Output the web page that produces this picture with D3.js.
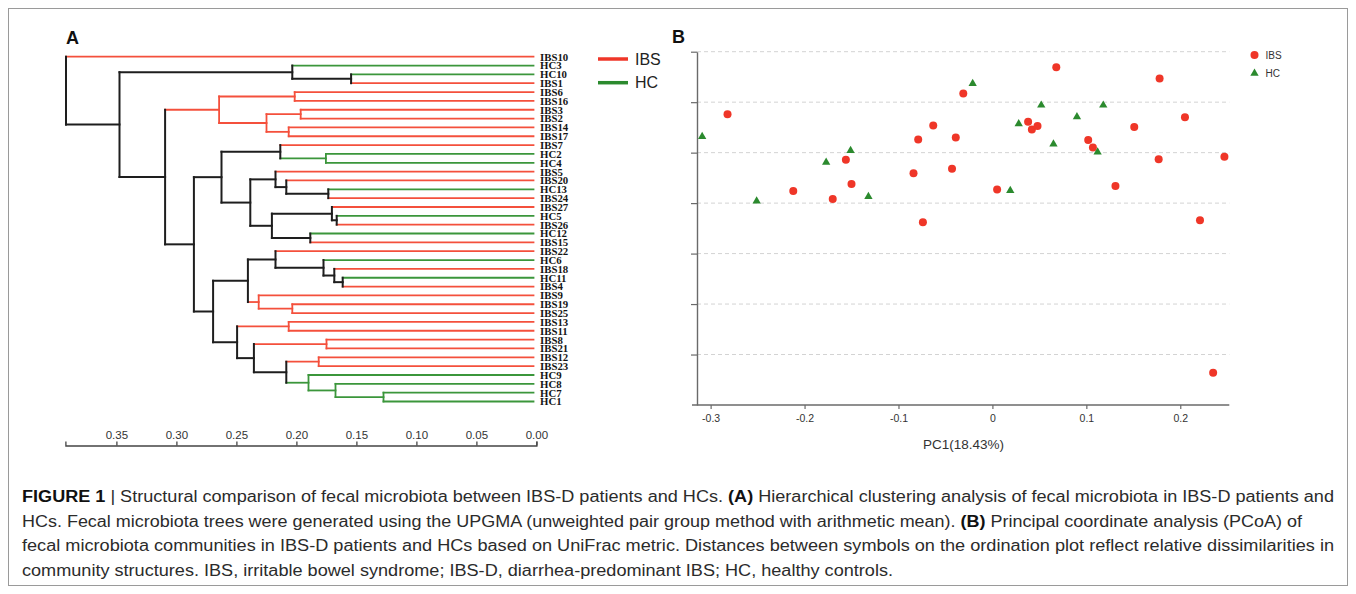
<!DOCTYPE html>
<html><head><meta charset="utf-8">
<script src="https://cdn.jsdelivr.net/npm/d3@7/dist/d3.min.js"></script>
<style>
html,body{margin:0;padding:0;background:#fff;}
svg{display:block;}
</style></head>
<body>
<svg id="fig" width="1356" height="594"></svg>
<script>
// ---------- Panel A: dendrogram data ----------
const leaves = ["IBS10","HC3","HC10","IBS1","IBS6","IBS16","IBS3","IBS2","IBS14","IBS17",
  "IBS7","HC2","HC4","IBS5","IBS20","HC13","IBS24","IBS27","HC5","IBS26",
  "HC12","IBS15","IBS22","HC6","IBS18","HC11","IBS4","IBS9","IBS19","IBS25",
  "IBS13","IBS11","IBS8","IBS21","IBS12","IBS23","HC9","HC8","HC7","HC1"];
// [node, childA, childB, height]
const merges = [
  ["n1","HC10","IBS1",0.152],
  ["n2","HC3","n1",0.201],
  ["n3","IBS6","IBS16",0.199],
  ["n4","IBS3","IBS2",0.194],
  ["n5","IBS14","IBS17",0.204],
  ["n6","n4","n5",0.2225],
  ["n7","n3","n6",0.262],
  ["n8","HC2","HC4",0.173],
  ["n9","IBS7","n8",0.211],
  ["n10","HC13","IBS24",0.171],
  ["n11","IBS20","n10",0.206],
  ["n12","IBS5","n11",0.215],
  ["n13","HC5","IBS26",0.164],
  ["n14","IBS27","n13",0.168],
  ["n15","HC12","IBS15",0.186],
  ["n16","n14","n15",0.218],
  ["n17","n12","n16",0.236],
  ["n18","n9","n17",0.26],
  ["n19","HC11","IBS4",0.159],
  ["n20","IBS18","n19",0.166],
  ["n21","HC6","n20",0.175],
  ["n22","IBS22","n21",0.215],
  ["n23","IBS19","IBS25",0.201],
  ["n24","IBS9","n23",0.229],
  ["n25","n22","n24",0.238],
  ["n26","IBS13","IBS11",0.204],
  ["n27","IBS8","IBS21",0.1725],
  ["n28","IBS12","IBS23",0.179],
  ["n29","HC7","HC1",0.125],
  ["n30","HC8","n29",0.165],
  ["n31","HC9","n30",0.1875],
  ["n32","n28","n31",0.206],
  ["n33","n27","n32",0.233],
  ["n34","n26","n33",0.247],
  ["n35","n25","n34",0.267],
  ["n36","n18","n35",0.283],
  ["n37","n7","n36",0.307],
  ["n38","n2","n37",0.345],
  ["root","IBS10","n38",0.3896]
];
const distTicks = [0.35,0.30,0.25,0.20,0.15,0.10,0.05,0.00];
const groups = ["IBS","HC"];

// ---------- Panel B: PCoA data ----------
const ibsPC1 = [-0.282,-0.212,-0.170,-0.156,-0.150,-0.084,-0.079,-0.074,-0.063,-0.043,-0.039,-0.031,0.005,
  0.068,0.178,0.205,0.038,0.042,0.048,0.151,0.102,0.107,0.177,0.247,0.131,0.221,0.235];
const ibsPC2 = [0.076,-0.076,-0.092,-0.014,-0.062,-0.041,0.026,-0.138,0.054,-0.032,0.030,0.117,-0.073,
  0.169,0.147,0.070,0.061,0.046,0.053,0.051,0.025,0.010,-0.013,-0.008,-0.066,-0.134,-0.436];
const hcPC1 = [-0.309,-0.251,-0.177,-0.151,-0.132,-0.021,0.052,0.118,0.090,0.028,0.065,0.112,0.019];
const hcPC2 = [0.032,-0.096,-0.019,0.004,-0.087,0.137,0.094,0.094,0.071,0.057,0.017,0.001,-0.075];
const pc1Ticks = [-0.3,-0.2,-0.1,0,0.1,0.2];
const pc2Ticks = [-0.4,-0.3,-0.2,-0.1,0,0.1,0.2];
const xTitle = "PC1(18.43%)";

// ---------- Caption ----------
const captionLines = [
  [["FIGURE 1",true],[" | ",false],["Structural comparison of fecal microbiota between IBS-D patients and HCs. ",false],["(A)",true],[" Hierarchical clustering analysis of fecal microbiota in IBS-D patients and",false]],
  [["HCs. Fecal microbiota trees were generated using the UPGMA (unweighted pair group method with arithmetic mean). ",false],["(B)",true],[" Principal coordinate analysis (PCoA) of",false]],
  [["fecal microbiota communities in IBS-D patients and HCs based on UniFrac metric. Distances between symbols on the ordination plot reflect relative dissimilarities in",false]],
  [["community structures. IBS, irritable bowel syndrome; IBS-D, diarrhea-predominant IBS; HC, healthy controls.",false]]
];
const captionWidths = [1312, 1280, 1312, 871];

// ================= drawing =================
const svg = d3.select("#fig");
const RED_T = "#f4503c", GREEN_T = "#3b963b", RED_P = "#ef3628", GREEN_P = "#2b8a2e";

svg.append("rect").attr("x",8.5).attr("y",8.5).attr("width",1339).attr("height",577)
  .attr("fill","none").attr("stroke","#9a9a9a").attr("stroke-width",1);

// ---- Panel A ----
const gA = svg.append("g");
const xTree = d3.scaleLinear().domain([0,0.39]).range([533.5,65.5]);
const xDist = d3.scaleLinear().domain([0,0.3925]).range([536.4,65.4]);
const yLeaf = d3.scalePoint().domain(leaves).range([56.7,401.5]);
const groupColor = d3.scaleOrdinal().domain(groups).range([RED_T, GREEN_T]);

const nodes = {};
leaves.forEach(l => {
  nodes[l] = {x: xTree(0), y: yLeaf(l), cls: l.startsWith("IBS") ? "IBS" : "HC", leaf: true};
});
const segs = [];
function purity(n){ return n.cls; }
merges.forEach(([id,a,b,h]) => {
  const A = nodes[a], B = nodes[b];
  const cls = (A.cls === B.cls) ? A.cls : "mixed";
  const n = {x: xTree(h), y: (A.y + B.y)/2, cls: cls};
  nodes[id] = n;
  const vc = cls === "mixed" ? "#1e1e1e" : groupColor(cls);
  segs.push({x1:n.x, y1:A.y, x2:n.x, y2:B.y, c:vc, w: cls==="mixed"?2:1.8});
  [A,B].forEach(C => {
    const hc = C.cls === "mixed" ? "#1e1e1e" : groupColor(C.cls);
    segs.push({x1:n.x, y1:C.y, x2:C.x, y2:C.y, c:hc, w: C.cls==="mixed"?2:1.8});
  });
});
// draw colored first, black on top
segs.sort((p,q) => (p.c==="#1e1e1e") - (q.c==="#1e1e1e"));
gA.selectAll("line.br").data(segs).join("line").attr("class","br")
  .attr("x1",d=>d.x1).attr("y1",d=>d.y1).attr("x2",d=>d.x2).attr("y2",d=>d.y2)
  .attr("stroke",d=>d.c).attr("stroke-width",d=>d.w).attr("stroke-linecap","square");

gA.selectAll("text.leaf").data(leaves).join("text").attr("class","leaf")
  .attr("x",540).attr("y",d=>yLeaf(d)).attr("dy","0.36em")
  .attr("font-family","'Liberation Serif','Times New Roman',serif").attr("font-weight","bold")
  .attr("font-size","10.8px").attr("fill","#151515").text(d=>d);

const axA = gA.append("g").attr("transform","translate(0,445.5)")
  .call(d3.axisTop(xDist).tickValues(distTicks).tickFormat(d3.format(".2f")).tickSize(4).tickSizeOuter(4));
axA.select(".domain").attr("stroke","#444").attr("stroke-width",1.3);
axA.selectAll(".tick line").attr("stroke","#444").attr("stroke-width",1.3);
axA.selectAll(".tick text").attr("font-family","'Liberation Sans',Arial,sans-serif").attr("font-size","11.5px").attr("fill","#333");

// legend A
const legA = gA.selectAll("g.legA").data(groups).join("g").attr("class","legA")
  .attr("transform",(d,i)=>`translate(598,${59 + i*23.7})`);
legA.append("line").attr("x1",0).attr("x2",30).attr("y1",0).attr("y2",0)
  .attr("stroke",d=>d==="IBS"?RED_P:GREEN_P).attr("stroke-width",3.5);
legA.append("text").attr("x",37).attr("dy","0.36em").attr("font-family","'Liberation Sans',Arial,sans-serif")
  .attr("font-size","16px").attr("fill","#222").text(d=>d);

svg.append("text").attr("x",66).attr("y",44).attr("font-family","'Liberation Sans',Arial,sans-serif")
  .attr("font-weight","bold").attr("font-size","18px").attr("fill","#111").text("A");
svg.append("text").attr("x",672).attr("y",43).attr("font-family","'Liberation Sans',Arial,sans-serif")
  .attr("font-weight","bold").attr("font-size","18px").attr("fill","#111").text("B");

// ---- Panel B ----
const gB = svg.append("g");
const xs = d3.scaleLinear().domain([-0.3145,0.2522]).range([697,1229.3]);
const ys = d3.scaleLinear().domain([-0.5,0.2]).range([405,51.7]);

gB.selectAll("line.grid").data(pc2Ticks).join("line").attr("class","grid")
  .attr("x1",xs.range()[0]).attr("x2",xs.range()[1]).attr("y1",d=>ys(d)).attr("y2",d=>ys(d))
  .attr("stroke","#d3d3d3").attr("stroke-width",1).attr("stroke-dasharray","4,3");

const axX = gB.append("g").attr("transform",`translate(0,${ys.range()[0]})`)
  .call(d3.axisBottom(xs).tickValues(pc1Ticks).tickFormat(d => d===0 ? "0" : d.toFixed(1)).tickSize(4).tickSizeOuter(0).tickPadding(6));
axX.select(".domain").attr("d",`M${xs.range()[0]-5},0H${xs.range()[1]}`).attr("stroke","#6a6a6a").attr("stroke-width",1.4);
axX.selectAll(".tick line").attr("stroke","#6a6a6a").attr("stroke-width",1.2);
axX.selectAll(".tick text").attr("font-family","'Liberation Sans',Arial,sans-serif").attr("font-size","10.5px").attr("fill","#333");

const axY = gB.append("g").attr("transform",`translate(${xs.range()[0]},0)`)
  .call(d3.axisLeft(ys).tickValues(pc2Ticks).tickFormat("").tickSize(6).tickSizeOuter(0));
axY.select(".domain").attr("stroke","#6a6a6a").attr("stroke-width",1.4);
axY.selectAll(".tick line").attr("stroke","#6a6a6a").attr("stroke-width",1.2);

gB.append("text").attr("x",963.5).attr("y",449).attr("text-anchor","middle")
  .attr("font-family","'Liberation Sans',Arial,sans-serif").attr("font-size","13.5px").attr("fill","#333").text(xTitle);

const ibsPts = ibsPC1.map((v,i)=>({x:v,y:ibsPC2[i]}));
const hcPts = hcPC1.map((v,i)=>({x:v,y:hcPC2[i]}));
gB.selectAll("circle.ibs").data(ibsPts).join("circle").attr("class","ibs")
  .attr("cx",d=>xs(d.x)).attr("cy",d=>ys(d.y)).attr("r",4).attr("fill",RED_P);
const tri = d3.symbol().type(d3.symbolTriangle).size(30);
gB.selectAll("path.hc").data(hcPts).join("path").attr("class","hc")
  .attr("transform",d=>`translate(${xs(d.x)},${ys(d.y)})`).attr("d",tri).attr("fill",GREEN_P);

// legend B
const legB = gB.selectAll("g.legB").data(groups).join("g").attr("class","legB")
  .attr("transform",(d,i)=>`translate(1254.5,${55 + i*18.3})`);
legB.each(function(d){
  const g = d3.select(this);
  if (d==="IBS") g.append("circle").attr("r",4).attr("fill",RED_P);
  else g.append("path").attr("d",tri).attr("fill",GREEN_P);
});
legB.append("text").attr("x",11).attr("dy","0.36em").attr("font-family","'Liberation Sans',Arial,sans-serif")
  .attr("font-size","10px").attr("fill","#333").text(d=>d);

// ---- Caption ----
const cap = svg.append("g");
captionLines.forEach((line,i) => {
  const t = cap.append("text").attr("x",22).attr("y",502 + i*24.5)
    .attr("font-family","'Liberation Sans',Arial,sans-serif").attr("font-size","16px").attr("fill","#2b2b2b")
    .attr("textLength",captionWidths[i]).attr("lengthAdjust","spacingAndGlyphs");
  line.forEach(([s,b]) => {
    t.append("tspan").attr("font-weight",b?"bold":"normal").attr("fill",b?"#111":"#2b2b2b").text(s);
  });
});
</script>
</body></html>
